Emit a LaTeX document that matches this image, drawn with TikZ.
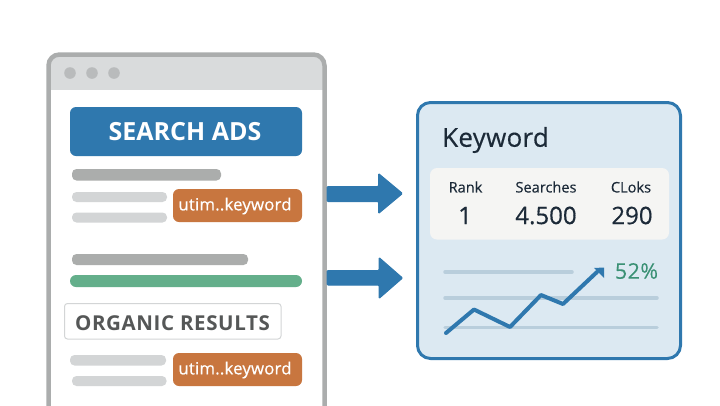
\documentclass[tikz,border=0pt]{standalone}
\usepackage{fontspec}
\setmainfont{Open Sans}
\usetikzlibrary{arrows.meta}
\definecolor{blueC}{HTML}{2F78AE}
\definecolor{orangeC}{HTML}{C8763F}
\definecolor{greenC}{HTML}{64AF8B}
\definecolor{grayframe}{HTML}{ABADAD}
\definecolor{grayhead}{HTML}{D9DBDC}
\definecolor{graydot}{HTML}{B9BBBC}
\definecolor{graybar}{HTML}{ABADAC}
\definecolor{lightbar}{HTML}{D3D5D6}
\definecolor{panelfill}{HTML}{DCE9F2}
\definecolor{cardfill}{HTML}{F5F5F3}
\definecolor{inkC}{HTML}{1C2A38}
\definecolor{gridC}{HTML}{B9CEDC}
\definecolor{textgreen}{HTML}{3B9175}
\definecolor{orgtext}{HTML}{555757}
\tikzset{
  x=1pt,y=-1pt,
  bar/.style={fill=#1,draw=none,rounded corners=4.5pt},
  tagbox/.style={fill=orangeC,draw=none,rounded corners=6pt},
  tagtext/.style={text=white,inner sep=0pt,font=\fontsize{16.8}{18}\selectfont\addfontfeature{LetterSpace=1,FakeBold=0.5}},
  colhead/.style={text=inkC,inner sep=0pt,font=\fontsize{14.6}{16}\selectfont\addfontfeature{FakeBold=0.3}},
  colval/.style={text=inkC,inner sep=0pt,font=\fontsize{24}{26}\selectfont\addfontfeature{FakeBold=0.5}},
  flowarrow/.style={fill=blueC,draw=blueC,line width=1pt,rounded corners=1pt},
  gridline/.style={draw=gridC,line width=3.5pt,line cap=round},
}
\begin{document}
\begin{tikzpicture}
\useasboundingbox (0,0) rectangle (720,405);
% browser
\fill[white,rounded corners=11pt] (48,54) rectangle (325,420);
\begin{scope}
\clip[rounded corners=10pt] (48,54) -- (325,54) -- (325,90) -- (48,90) -- cycle;
\fill[grayhead] (48,54) rectangle (325,90);
\end{scope}
\fill[grayhead] (48,75) rectangle (325,90);
\draw[grayframe,line width=4.5pt,rounded corners=11pt] (48.5,420) -- (48.5,54.5) -- (324.5,54.5) -- (324.5,420);
\foreach \x in {70,92,114} \fill[graydot] (\x,73) circle (5.8pt);
% ads
\fill[blueC,rounded corners=6pt] (70,107) rectangle (302,156);
\node (ads) at (185,132) [inner sep=0pt,text=white,font=\bfseries\fontsize{25}{27}\selectfont] {SEARCH ADS};
\fill[bar=graybar] (72,169) rectangle (221,180.5);
\fill[bar=lightbar] (72,192) rectangle (167,202);
\fill[bar=lightbar] (72,212.5) rectangle (167,222.5);
\fill[tagbox] (173,189) rectangle (302,222);
\node (tag1) at (235,206) [tagtext] {utim..keyword};
\fill[bar=graybar] (72,254) rectangle (248,265);
\fill[bar=greenC,rounded corners=6pt] (70,275) rectangle (302,287);
\draw[draw=lightbar,fill=white,line width=1pt,rounded corners=3pt] (64.5,303.5) rectangle (281,339);
\node (org) at (172.5,323) [inner sep=0pt,text=orgtext,font=\bfseries\fontsize{20.5}{22}\selectfont\addfontfeature{LetterSpace=3}] {ORGANIC RESULTS};
\fill[bar=lightbar] (70,355) rectangle (166,365.5);
\fill[bar=lightbar] (72,376) rectangle (166.5,386);
\fill[tagbox] (173,353) rectangle (302,386);
\node (tag2) at (235,370) [tagtext] {utim..keyword};
% arrows
\draw[flowarrow] (327,186.5) -- (378.5,186.5) -- (378.5,173.5) -- (402.5,193.5) -- (378.5,213.5) -- (378.5,201.5) -- (327,201.5) -- cycle;
\draw[flowarrow] (327,270.5) -- (379,270.5) -- (379,257.5) -- (402.5,278) -- (379,298.5) -- (379,285) -- (327,285) -- cycle;
% panel
\draw[blueC,fill=panelfill,line width=3pt,rounded corners=13pt] (417.5,102.5) rectangle (680.5,358.5);
\node (title) at (442,140) [anchor=west,inner sep=0pt,text=inkC,font=\fontsize{26}{28}\selectfont\addfontfeature{LetterSpace=1,FakeBold=0.4}] {Keyword};
\fill[cardfill,rounded corners=7pt] (430,168) rectangle (669,239.5);
\node (h1) at (465.5,187) [colhead] {Rank};
\node (h2) at (546,187) [colhead] {Searches};
\node (h3) at (631,187) [colhead] {CLoks};
\node (v1) at (465,215.5) [colval] {1};
\node (v2) at (546,215.5) [colval] {4.500};
\node (v3) at (632,215.5) [colval] {290};
% chart
\draw[gridline] (445,272) -- (572,272);
\draw[gridline] (445,298) -- (657,298);
\draw[gridline] (445,327.5) -- (657,327.5);
\draw[blueC,line width=4pt,line join=round,line cap=round] (446,333) -- (474,309.5) -- (510,327) -- (541,295) -- (563,304) -- (597,272);
\fill[blueC] (594,268) -- (604,267.5) -- (604,278) -- cycle;
\node (pct) at (636.5,271) [inner sep=0pt,text=textgreen,font=\fontsize{21.5}{24}\selectfont\addfontfeature{LetterSpace=2,FakeBold=0.2}] {52\%};
\end{tikzpicture}
\end{document}
